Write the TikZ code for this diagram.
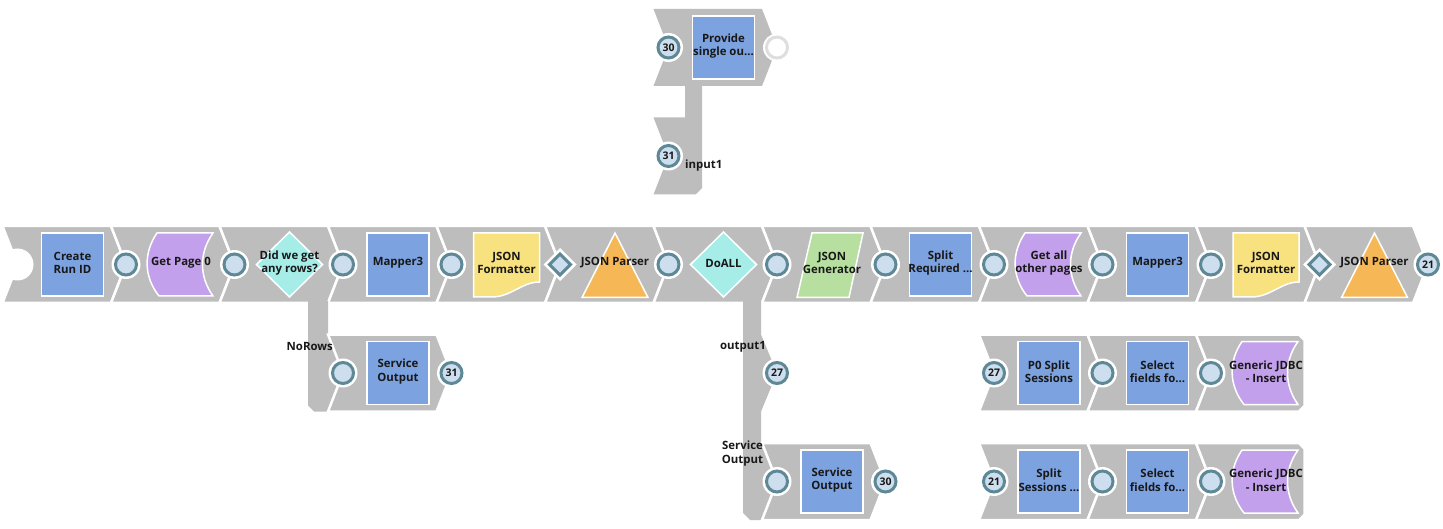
\documentclass[tikz,border=0pt]{standalone}
\usepackage{fontspec}
\setmainfont{Open Sans}
\definecolor{bandgray}{RGB}{189,189,189}
\definecolor{cblue}{RGB}{124,162,224}
\definecolor{cpurple}{RGB}{195,160,236}
\definecolor{ccyan}{RGB}{166,237,232}
\definecolor{cyellow}{RGB}{248,226,128}
\definecolor{corange}{RGB}{246,184,86}
\definecolor{cgreen}{RGB}{183,224,160}
\definecolor{portfill}{RGB}{205,222,238}
\definecolor{portedge}{RGB}{94,136,150}
\definecolor{emptyedge}{RGB}{222,222,222}
\definecolor{txtcol}{RGB}{24,24,24}
\tikzset{
  segsty/.style={fill=bandgray,draw=white,line width=2.5pt,line join=miter},
  bandsty/.style={fill=bandgray},
  shp/.style={draw=white,line width=1.5pt},
  txt/.style={font=\fontsize{11.4}{13.5}\selectfont\bfseries,text=txtcol,align=center,inner sep=0pt},
  portc/.style={circle,minimum size=21pt,inner sep=0pt,line width=3pt,draw=portedge,fill=portfill,text=txtcol},
  portd/.style={draw=portedge,fill=portfill,line width=3pt,line join=miter},
}
% chevron segment: left point x, right point x, centre y
\newcommand\segm[3]{\path[segsty] ({#1-15},{#3-38.5}) -- ({#2-15},{#3-38.5}) -- (#2,#3) -- ({#2-15},{#3+38.5}) -- ({#1-15},{#3+38.5}) -- (#1,#3) -- cycle;}
% segment with flat right end
\newcommand\flatseg[3]{\path[segsty] ({#1-15},{#3-38.5}) -- ({#2-5.5},{#3-38.5}) -- (#2,{#3-33}) -- (#2,{#3+33}) -- ({#2-5.5},{#3+38.5}) -- ({#1-15},{#3+38.5}) -- (#1,#3) -- cycle;}
% shapes: cx, cy, name, text
\newcommand\bbox[4]{\path[shp,fill=cblue] ({#1-31},{#2-31.5}) rectangle ({#1+31},{#2+31.5});
  \node[txt] (#3) at (#1,{#2-1.5}) {#4};}
\newcommand\pcres[4]{\path[shp,fill=cpurple] ({#1-24},{#2-31.5}) -- ({#1+32},{#2-31.5}) .. controls ({#1+18},{#2-12}) and ({#1+18},{#2+12}) .. ({#1+32},{#2+31.5}) -- ({#1-22},{#2+31.5}) .. controls ({#1-37.5},{#2+12}) and ({#1-37.5},{#2-12}) .. ({#1-24},{#2-31.5}) -- cycle;
  \node[txt] (#3) at (#1,{#2-1.5}) {#4};}
\newcommand\cdiam[4]{\path[shp,fill=ccyan] ({#1-33},#2) -- (#1,{#2-32.5}) -- ({#1+33},#2) -- (#1,{#2+32.5}) -- cycle;
  \node[txt] (#3) at (#1,{#2-1.5}) {#4};}
\newcommand\ydoc[4]{\path[shp,fill=cyellow] ({#1-33},{#2-31.5}) -- ({#1+33},{#2-31.5}) -- ({#1+33},{#2+17.5}) .. controls ({#1+15},{#2+17.5}) and ({#1+5},{#2+32.5}) .. ({#1-15},{#2+32.5}) -- ({#1-33},{#2+32.5}) -- cycle;
  \node[txt] (#3) at (#1,{#2-1.5}) {#4};}
\newcommand\otri[4]{\path[shp,fill=corange] (#1,{#2-31.5}) -- ({#1+33},{#2+33}) -- ({#1-33},{#2+33}) -- cycle;
  \node[txt] (#3) at (#1,{#2-1.5}) {#4};}
\newcommand\gpar[4]{\path[shp,fill=cgreen] ({#1-20},{#2-31.5}) -- ({#1+31},{#2-31.5}) -- ({#1+17},{#2+33}) -- ({#1-35},{#2+33}) -- cycle;
  \node[txt] (#3) at (#1,{#2-1.5}) {#4};}
% ports
\newcommand\cport[3]{\fill[white] (#1,#2) circle[radius=14.5pt]; \node[portc] (#3) at (#1,#2) {};}
\newcommand\nport[4]{\fill[white] (#1,#2) circle[radius=14.5pt]; \node[portc,font=\fontsize{10.5}{12}\selectfont\bfseries] (#3) at (#1,#2) {#4};}
\newcommand\dport[3]{\fill[white] ({#1-16.5},#2) -- (#1,{#2-16.5}) -- ({#1+16.5},#2) -- (#1,{#2+16.5}) -- cycle;
  \path[portd] ({#1-10.5},#2) -- (#1,{#2-10.5}) -- ({#1+10.5},#2) -- (#1,{#2+10.5}) -- cycle; \coordinate (#3) at (#1,#2);}
\begin{document}
\begin{tikzpicture}[x=1pt,y=-1pt]
\useasboundingbox (0,0) rectangle (1443,529);
\fill[white] (0,0) rectangle (1443,529);
% ---- main row (centre y 264.5), point x = 17.5 + 108.5 i
\segm{17.5}{126}{264.5}
\segm{126}{234.5}{264.5}
\segm{234.5}{343}{264.5}
\segm{343}{451.5}{264.5}
\segm{451.5}{560}{264.5}
\segm{560}{668.5}{264.5}
\segm{668.5}{777}{264.5}
\segm{777}{885.5}{264.5}
\segm{885.5}{994}{264.5}
\segm{994}{1102.5}{264.5}
\segm{1102.5}{1211}{264.5}
\segm{1211}{1319.5}{264.5}
\segm{1319.5}{1428}{264.5}
% ---- branch bands
\path[bandsty] (308,301) -- (328,301) -- (328,334.5) -- (345,373) -- (328,411.5) -- (314,411.5) -- (308,405.5) -- cycle;
\path[bandsty] (743,301) -- (761,301) -- (761,334.5) -- (777,373) -- (761,411.5) -- (761,443) -- (779,481.5) -- (761,520) -- (750,520) -- (743,513) -- cycle;
% ---- row 1 (centre y 373)
\segm{343}{451.5}{373}
\segm{994}{1102.5}{373}
\segm{1102.5}{1211}{373}
\flatseg{1211}{1304.5}{373}
% ---- row 2 (centre y 481.5)
\segm{777}{885.5}{481.5}
\segm{994}{1102.5}{481.5}
\segm{1102.5}{1211}{481.5}
\flatseg{1211}{1304.5}{481.5}
% ---- top snap with second input
\path[bandsty] (653.5,9) -- (762,9) -- (777,47.5) -- (762,86) -- (702,86) -- (702,188) -- (695.5,194.5) -- (653.5,194.5) -- (668.5,156) -- (653.5,117.5) -- (685,117.5) -- (685,86) -- (653.5,86) -- (668.5,47.5) -- cycle;
% ---- shapes, main row
\bbox{72.5}{264.5}{n0}{Create\\Run ID}
\pcres{181}{264.5}{n1}{Get Page 0}
\cdiam{289.5}{264.5}{n2}{Did we get\\any rows?}
\bbox{398}{264.5}{n3}{Mapper3}
\ydoc{506.5}{264.5}{n4}{JSON\\Formatter}
\otri{615}{264.5}{n5}{JSON Parser}
\cdiam{723.5}{264.5}{n6}{DoALL}
\gpar{832}{264.5}{n7}{JSON\\Generator}
\bbox{940.5}{264.5}{n8}{Split\\Required ...}
\pcres{1049}{264.5}{n9}{Get all\\other pages}
\bbox{1157.5}{264.5}{n10}{Mapper3}
\ydoc{1266}{264.5}{n11}{JSON\\Formatter}
\otri{1374.5}{264.5}{n12}{JSON Parser}
% ---- shapes, other rows
\bbox{723.5}{47.5}{nprov}{Provide\\single ou...}
\bbox{398}{373}{nso1}{Service\\Output}
\bbox{1049}{373}{np0}{P0 Split\\Sessions}
\bbox{1157.5}{373}{nsel1}{Select\\fields fo...}
\pcres{1266}{373}{njdbc1}{Generic JDBC\\- Insert}
\bbox{832}{481.5}{nso2}{Service\\Output}
\bbox{1049}{481.5}{nss}{Split\\Sessions ...}
\bbox{1157.5}{481.5}{nsel2}{Select\\fields fo...}
\pcres{1266}{481.5}{njdbc2}{Generic JDBC\\- Insert}
% ---- ports
\fill[white] (17.5,264.5) circle[radius=16pt];
\coordinate (pin0) at (17.5,264.5);
\cport{126}{264.5}{p1}
\cport{234.5}{264.5}{p2}
\cport{343}{264.5}{p3}
\cport{451.5}{264.5}{p4}
\dport{560}{264.5}{p5}
\cport{668.5}{264.5}{p6}
\cport{777}{264.5}{p7}
\cport{885.5}{264.5}{p8}
\cport{994}{264.5}{p9}
\cport{1102.5}{264.5}{p10}
\cport{1211}{264.5}{p11}
\dport{1319.5}{264.5}{p12}
\nport{1428}{264.5}{p13}{21}
\cport{343}{373}{q3}
\nport{451.5}{373}{q4}{31}
\nport{777}{373}{q7}{27}
\nport{994}{373}{q9}{27}
\cport{1102.5}{373}{q10}
\cport{1211}{373}{q11}
\cport{777}{481.5}{r7}
\nport{885.5}{481.5}{r8}{30}
\nport{994}{481.5}{r9}{21}
\cport{1102.5}{481.5}{r10}
\cport{1211}{481.5}{r11}
\nport{668.5}{47.5}{t6}{30}
\nport{668.5}{156}{u6}{31}
\fill[white] (777,47.5) circle[radius=14pt];
\node[circle,minimum size=21pt,inner sep=0pt,line width=3pt,draw=emptyedge,fill=white] (t7) at (777,47.5) {};
% ---- view labels
\node[txt,anchor=east] (lnorows) at (333,346.5) {NoRows};
\node[txt,anchor=east] (lout1) at (766,346.5) {output1};
\node[txt] (lsvc) at (742.5,453.5) {Service\\Output};
\node[txt,anchor=west] (lin1) at (685,165.5) {input1};
\end{tikzpicture}
\end{document}
